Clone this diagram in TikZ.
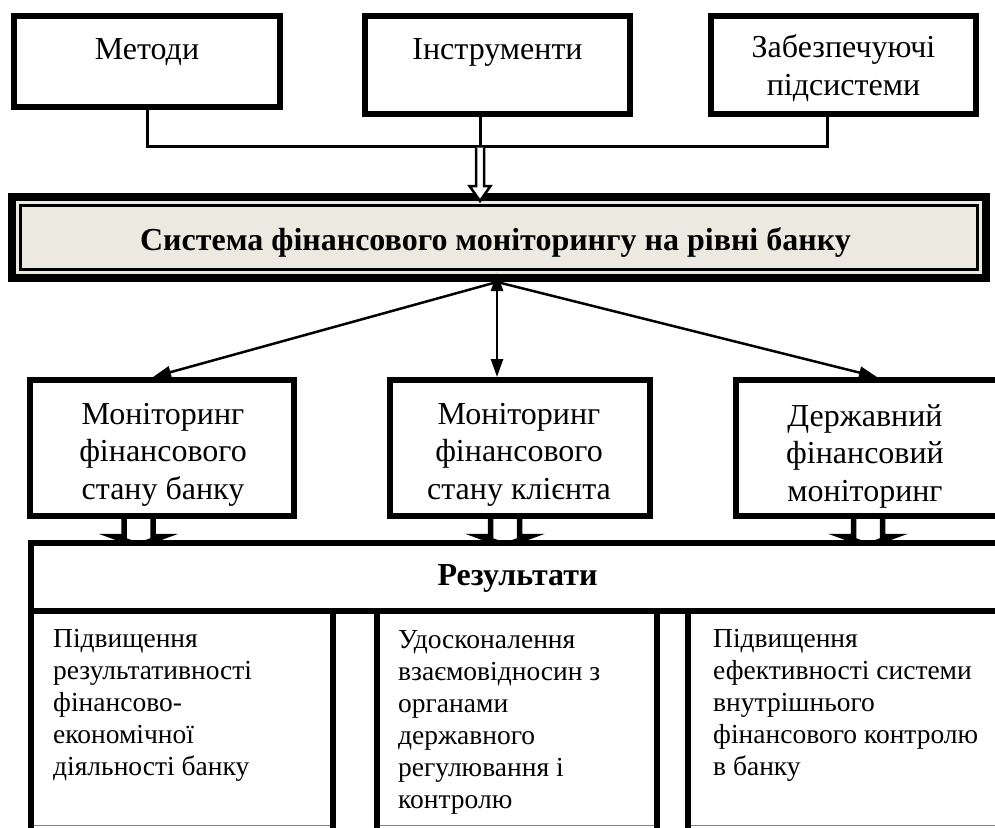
\documentclass[tikz,border=0pt]{standalone}
\usepackage{fontspec}
\setmainfont{Liberation Serif}
\usetikzlibrary{arrows.meta,calc}
\pgfdeclarelayer{background}
\pgfsetlayers{background,main}
\definecolor{sysfill}{RGB}{236,234,224}
\begin{document}
\begin{tikzpicture}[x=1pt,y=-1pt,
  box/.style={draw, line width=6pt, inner sep=0pt, line join=miter},
  conn/.style={line width=3pt, line join=miter},
  thinarr/.style={line width=2.5pt},
  twoway/.style={{Triangle[length=18pt,width=12pt]}-{Triangle[length=18pt,width=12pt]}},
  oneway/.style={-{Triangle[length=18pt,width=12pt]}},
  hollow/.style={fill=white, draw=black, line width=2.5pt, line join=miter},
  blockarr/.style={fill=white, draw=black, line width=5.5pt, line join=miter},
  ttext/.style={font=\fontsize{32}{38}\selectfont, align=center, inner sep=0pt},
  mtext/.style={font=\fontsize{32}{37.5}\selectfont, align=center, inner sep=0pt},
  titletext/.style={font=\fontsize{32}{38}\selectfont\bfseries, inner sep=0pt},
  btext/.style={font=\fontsize{27.5}{32}\selectfont, align=left, inner sep=0pt}
]
\useasboundingbox (0,0) rectangle (995,827);
\begin{pgfonlayer}{background}
\fill[white] (0,0) rectangle (995,827);
\end{pgfonlayer}
\clip (0,0) rectangle (995,827);

% top boxes
\node[box, minimum width=266pt, minimum height=91pt] (metody) at (147,61.5) {};
\node[box, minimum width=265pt, minimum height=98pt] (instr) at (497.5,65) {};
\node[box, minimum width=265pt, minimum height=98pt] (zab) at (843.5,65) {};
\node[ttext, anchor=base] (metodyt) at (147,59) {Методи};
\node[ttext, anchor=base] (instrt) at (497.5,59) {Інструменти};
\node[ttext, anchor=north] (zabt) at (843.5,34) {Забезпечуючі\\підсистеми};

% system box
\node[draw, line width=8pt, fill=sysfill, minimum width=974pt, minimum height=81pt, inner sep=0pt] (sys) at (499,237.5) {};
\draw[line width=2.5pt] ([shift={(12.5,12.5)}]sys.north west) rectangle ([shift={(-12.5,-12.5)}]sys.south east);
\node[titletext, anchor=base] (syst) at (495.5,250) {Система фінансового моніторингу на рівні банку};

% top connectors
\coordinate (istem) at ([xshift=-17.5pt]instr.south);
\coordinate (zstem) at ([xshift=-16.5pt]zab.south);
\coordinate (bus) at ($(istem)+(0,29)$);
\coordinate (busR) at (zstem |- bus);
\draw[conn] (metody.south) |- (busR) -- (zstem);
\draw[conn] (istem) -- (bus);
\coordinate (dtip) at ([xshift=-19pt, yshift=-8pt]sys.north);
\filldraw[hollow] ($(bus)+(-4,1.5)$) -- ++(0,38.5) -- ++(-6.5,0) -- (dtip) -- ++(10.5,-15) -- ++(-6.5,0) -- ++(0,-38.5);

% monitoring boxes
\node[box, minimum width=264pt, minimum height=136pt] (mon1) at (162,448) {};
\node[box, minimum width=260pt, minimum height=136pt] (mon2) at (520,448) {};
\node[box, minimum width=274pt, minimum height=136pt] (mon3) at (873,448) {};
\node[mtext, anchor=north] (mon1t) at (163,403) {Моніторинг\\фінансового\\стану банку};
\node[mtext, anchor=north] (mon2t) at (519,403) {Моніторинг\\фінансового\\стану клієнта};
\node[mtext, anchor=north] (mon3t) at (865,404) {Державний\\фінансовий\\моніторинг};

% arrows from the system box
\coordinate (hub) at ([xshift=-2pt]sys.south);
\coordinate (hubtip) at ([yshift=9pt]hub);
\draw[thinarr, twoway] (hubtip) -- (hubtip |- mon2.north);
\draw[thinarr, oneway] (hub) -- ([xshift=-9pt]mon1.north);
\draw[thinarr, oneway] (hub) -- ([xshift=144pt]mon3.north west);

% results
\node[box, fill=white, minimum width=979pt, minimum height=68pt] (res) at (520.5,576.75) {};
\node[titletext, anchor=base] (rest) at (517.5,585) {Результати};

% block arrows to the results
\coordinate (a1) at ([xshift=-23.5pt]mon1.south);
\coordinate (a2) at ([xshift=-15pt]mon2.south);
\coordinate (a3) at ([xshift=-5pt]mon3.south);
\begin{pgfonlayer}{background}
\foreach \c in {a1,a2,a3}
  \filldraw[blockarr] ($(\c)+(-14.5,-3)$) -- ++(0,20.5) -- ++(-10,0) -- ++(24.5,9) -- ++(24.5,-9) -- ++(-10,0) -- ++(0,-20.5);
\end{pgfonlayer}

% bottom boxes
\node[box, minimum width=301.5pt, minimum height=230pt] (b1) at (181.75,725.75) {};
\node[box, minimum width=280pt, minimum height=230pt] (b2) at (516.5,725.75) {};
\node[box, minimum width=322.5pt, minimum height=230pt] (b3) at (848.75,725.75) {};
\draw[gray, line width=1pt] (34,825.5) -- (329.5,825.5);
\draw[gray, line width=1pt] (379.5,825.5) -- (653.5,825.5);
\draw[gray, line width=1pt] (690.5,825.5) -- (995,825.5);
\node[btext, anchor=north west] (b1t) at (53,629) {Підвищення\\результативності\\фінансово-\\економічної\\діяльності банку};
\node[btext, anchor=north west] (b2t) at (398,630) {Удосконалення\\взаємовідносин з\\органами\\державного\\регулювання і\\контролю};
\node[btext, anchor=north west] (b3t) at (713,629) {Підвищення\\ефективності системи\\внутрішнього\\фінансового контролю\\в банку};
\end{tikzpicture}
\end{document}
